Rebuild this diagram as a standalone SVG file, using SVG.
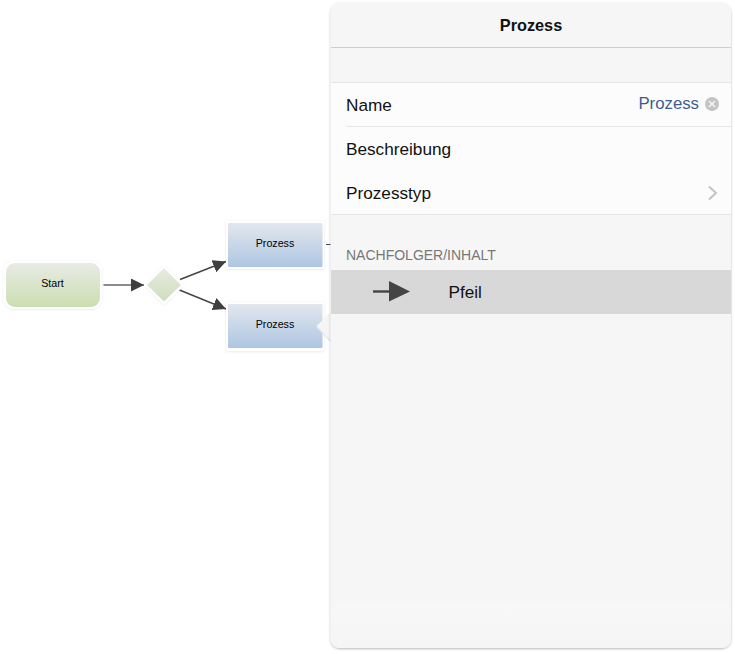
<svg xmlns="http://www.w3.org/2000/svg" width="735" height="654" viewBox="0 0 735 654">
<style>
text{font-family:"Liberation Sans",Arial,sans-serif;fill:#111}
.node{font-size:10.700px;text-anchor:middle;fill:#000}
.row{font-size:17.200px}
.halo{fill:#fff;filter:url(#h)}
.conn{fill:none;stroke:#444;stroke-width:1.400}
.sep{stroke:#e6e6e6;stroke-width:1}
</style>
<defs>
<linearGradient id="g" x1="0" y1="0" x2="0" y2="1"><stop offset="0" stop-color="#e9ebe6"/><stop offset="1" stop-color="#cbdeb0"/></linearGradient>
<linearGradient id="b" x1="0" y1="0" x2="0" y2="1"><stop offset="0" stop-color="#e3e7ee"/><stop offset="1" stop-color="#aec6e2"/></linearGradient>
<linearGradient id="d" x1="0" y1="0" x2="0" y2="1"><stop offset="0" stop-color="#e8ebe3"/><stop offset="1" stop-color="#cfdeba"/></linearGradient>
<linearGradient id="f" x1="0" y1="0" x2="0" y2="1"><stop offset="0" stop-color="#f8f8f8"/><stop offset="1" stop-color="#f5f5f5"/></linearGradient>
<filter id="s" x="-5%" y="-5%" width="110%" height="110%"><feDropShadow dx="0" dy="1" stdDeviation="1" flood-color="#000" flood-opacity=".28"/></filter>
<filter id="h" x="-10%" y="-10%" width="120%" height="120%"><feDropShadow dx="0" dy="0.500" stdDeviation="0.800" flood-color="#000" flood-opacity=".1"/></filter>
<marker id="a" markerUnits="userSpaceOnUse" markerWidth="14" markerHeight="14" refX="13" refY="6.500" orient="auto"><path d="M0 0L13 6.500L0 13Z" fill="#3f3f3f"/></marker>
</defs>
<rect width="735" height="654" fill="#fff"/>
<g id="connectors">
<path class="conn" d="M103.500 285H144" marker-end="url(#a)" style="stroke:#666"/>
<path class="conn" d="M180 279.500L226 261.500" marker-end="url(#a)"/>
<path class="conn" d="M179.500 290L226 309" marker-end="url(#a)"/>
<path class="conn" d="M326 244.500H331" style="stroke-width:1"/>
</g>
<g id="start">
<rect class="halo" x="3.500" y="261" width="98.500" height="48" rx="11"/>
<rect x="6" y="263" width="94" height="44" rx="9" fill="url(#g)"/>
<text class="node" x="52.500" y="287">Start</text>
</g>
<g id="decision">
<path class="halo" d="M164 265L184 285.500L164 305L145 285.500Z"/>
<path d="M164 268L181 285L164 301.500L147 285Z" fill="url(#d)"/>
</g>
<g id="process1">
<rect class="halo" x="226" y="221" width="98" height="48"/>
<rect x="228" y="223" width="94.500" height="44" rx="1" fill="url(#b)"/>
<text class="node" x="275" y="247">Prozess</text>
</g>
<g id="process2">
<rect class="halo" x="226" y="302" width="98" height="49"/>
<rect x="228" y="304" width="94.500" height="44" rx="1" fill="url(#b)"/>
<text class="node" x="275" y="328">Prozess</text>
</g>
<g id="panel">
<path d="M316.500 326L331 312V341Z" fill="#dfe3ea" transform="translate(0 1.500)"/>
<path d="M316.500 326L331 312V341Z" fill="#f5f5f5"/>
<rect x="330.500" y="2.500" width="400.500" height="645.500" rx="9" fill="#f6f6f6" filter="url(#s)"/>
<path d="M331 47.500H731" stroke="#cfcfcf" stroke-width="1"/>
<rect x="331" y="83" width="400" height="131" fill="#fcfcfc"/>
<path class="sep" d="M331 82.500H731M346 126.500H731M331 214.500H731"/>
<rect x="331" y="270" width="400" height="44" fill="#d8d8d8"/>
<rect x="331" y="604" width="400" height="43" rx="8" fill="url(#f)"/>
<text x="531" y="31" text-anchor="middle" style="font-size:16.300px;font-weight:700">Prozess</text>
<text class="row" x="346" y="110.500">Name</text>
<text class="row" x="699" y="109" text-anchor="end" style="fill:#3f5c8f;font-size:16.800px">Prozess</text>
<circle cx="712" cy="104" r="7" fill="#c4c4c4"/>
<path d="M709 101L715 107M715 101L709 107" stroke="#f5f5f5" stroke-width="1.600"/>
<text class="row" x="346" y="154.500">Beschreibung</text>
<text class="row" x="346" y="198.500">Prozesstyp</text>
<path d="M709 186.500L716 193L709 199.500" fill="none" stroke="#c4c4c4" stroke-width="2"/>
<text x="346" y="260" style="font-size:14px;fill:#777">NACHFOLGER/INHALT</text>
<path d="M373 291.500H391" stroke="#444" stroke-width="2.400"/>
<path d="M389 281L410 291.500L389 301.500Z" fill="#444"/>
<text class="row" x="448.500" y="298">Pfeil</text>
</g>
</svg>
